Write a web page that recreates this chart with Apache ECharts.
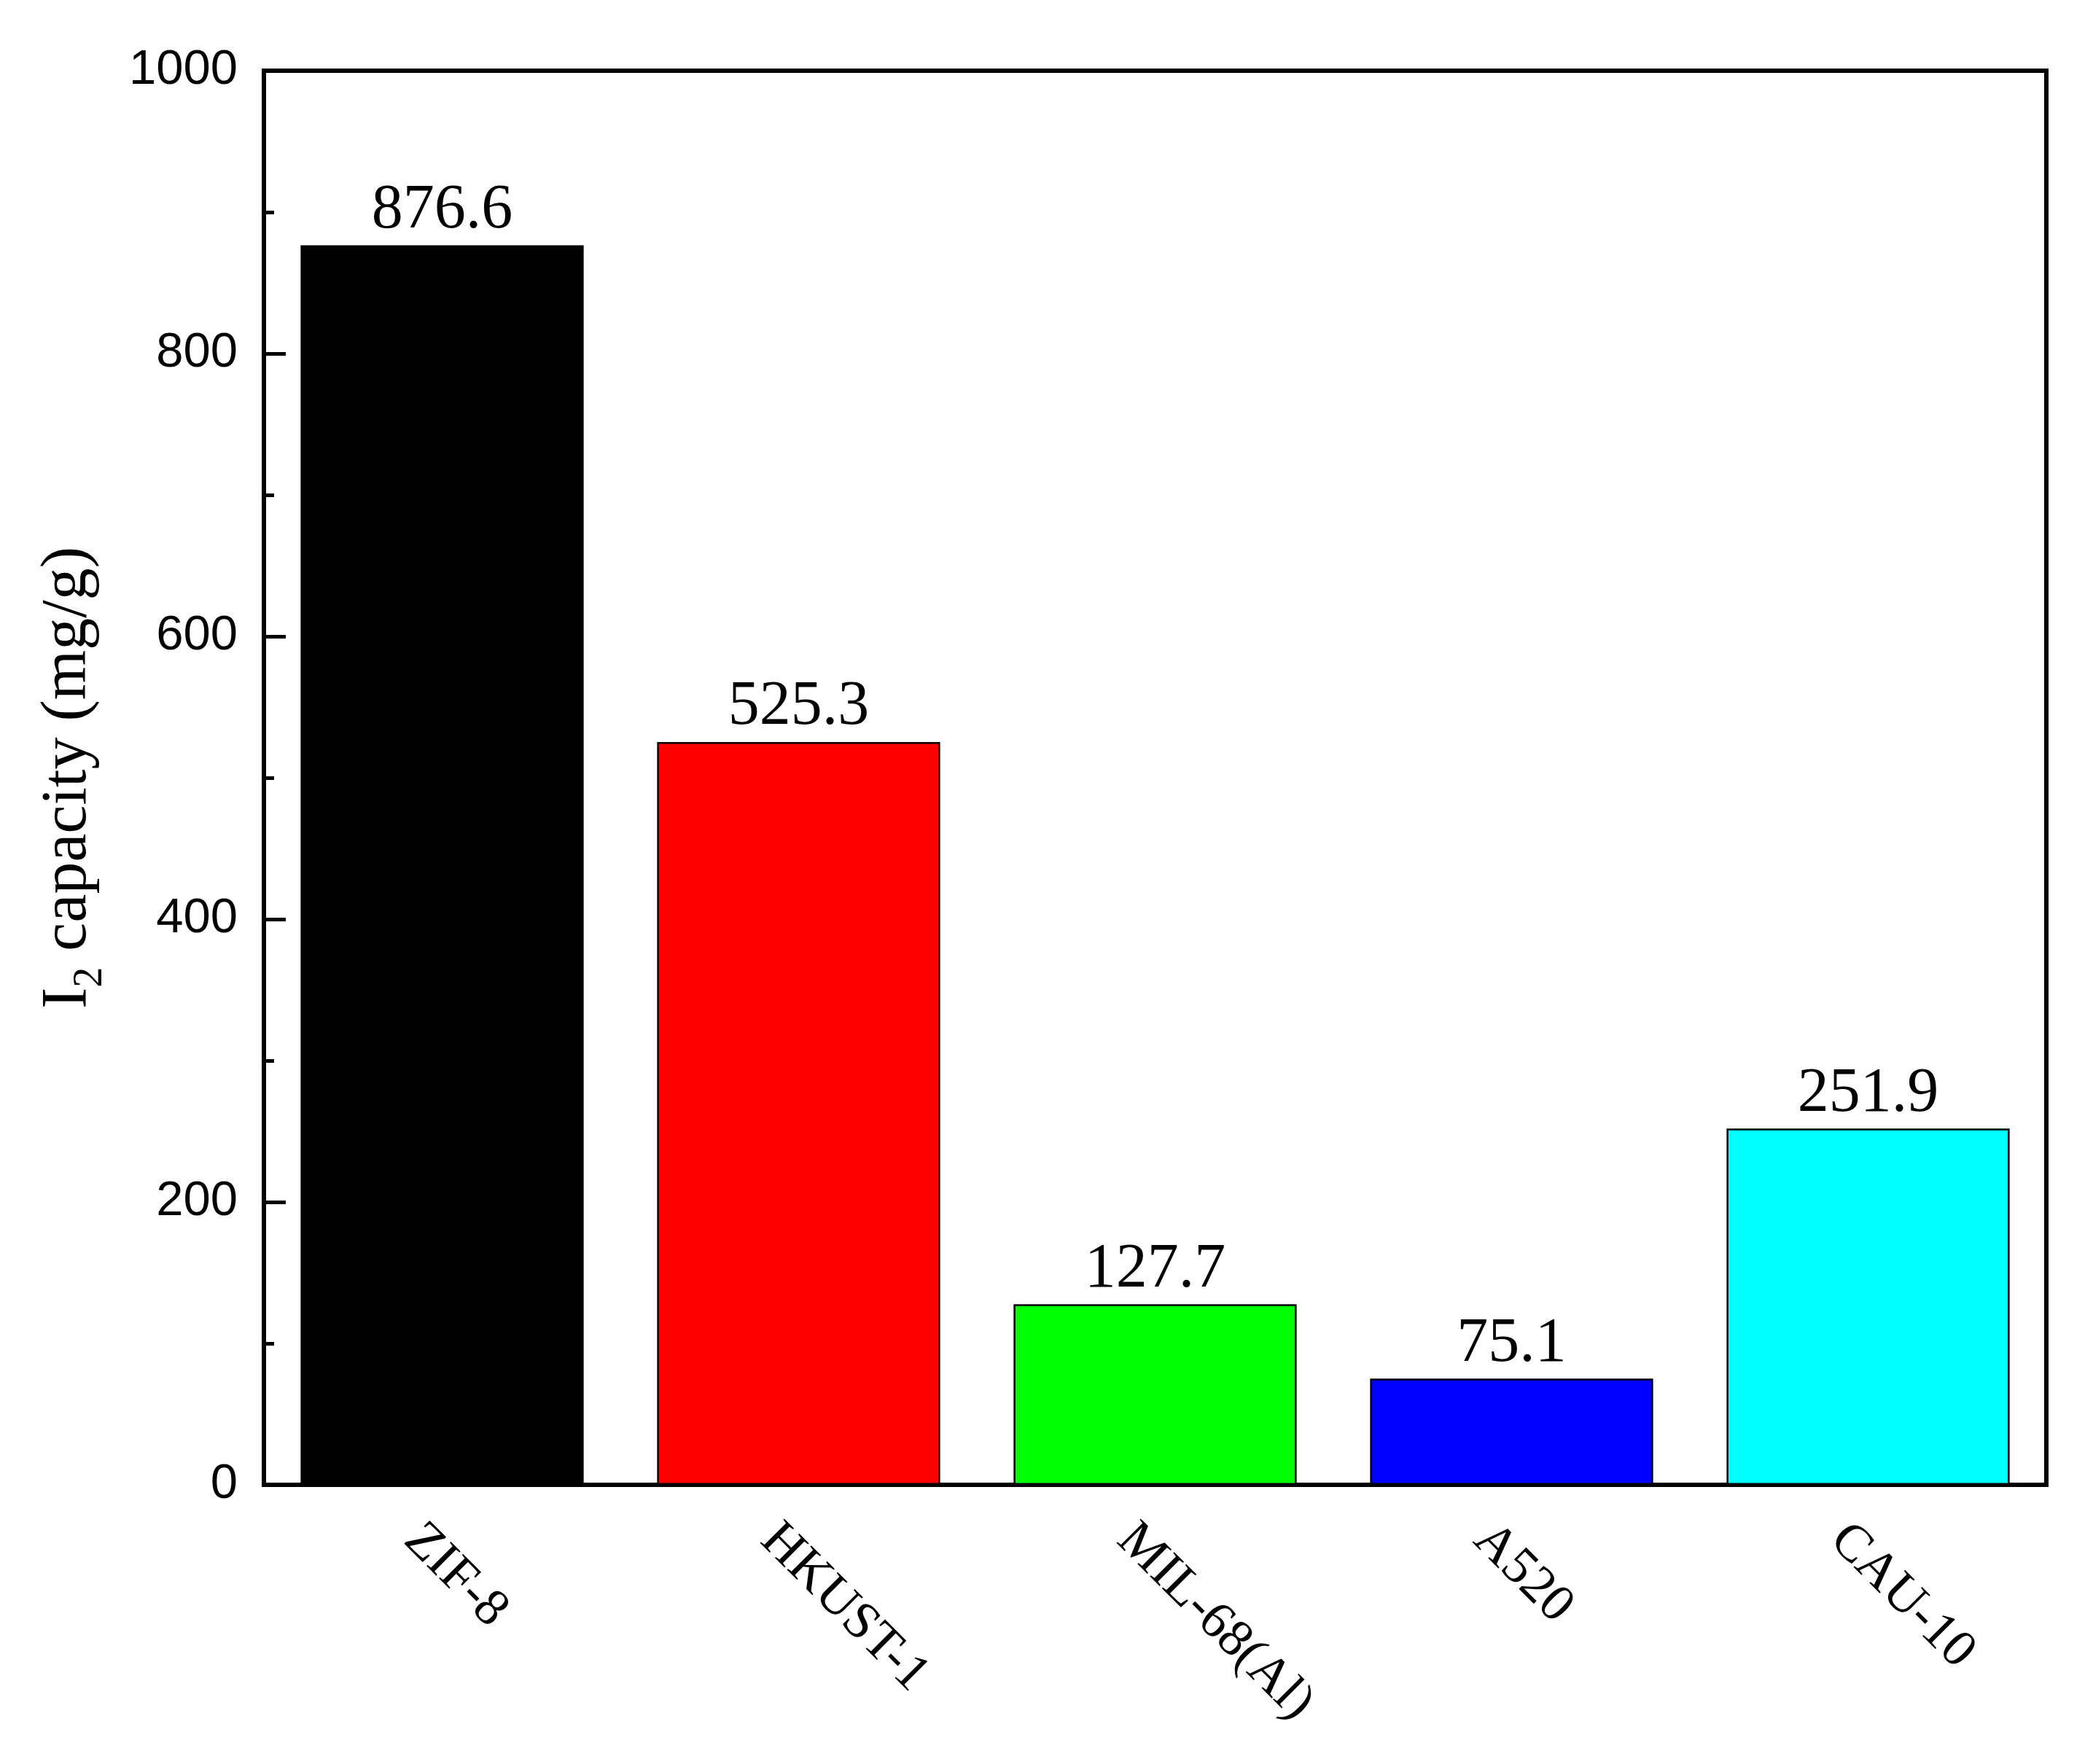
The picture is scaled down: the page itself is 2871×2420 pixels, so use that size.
<!DOCTYPE html>
<html>
<head>
<meta charset="utf-8">
<script src="https://cdn.jsdelivr.net/npm/echarts@6/dist/echarts.min.js"></script>
<style>
html, body { margin: 0; padding: 0; background: #ffffff; }
#chart { width: 2871px; height: 2420px; }
</style>
</head>
<body>
<div id="chart"></div>
<script>
const categories = ['ZIF-8', 'HKUST-1', 'MIL-68(Al)', 'A520', 'CAU-10'];
const capacities = [876.6, 525.3, 127.7, 75.1, 251.9];
const barColors = ['#000000', '#ff0000', '#00ff00', '#0000ff', '#00ffff'];
const yMin = 0, yMax = 1000, yInterval = 200;

const chart = echarts.init(document.getElementById('chart'), null, { renderer: 'canvas' });

const seriesData = capacities.map((v, i) => ({
  value: v,
  itemStyle: { color: barColors[i] }
}));

chart.setOption({
  backgroundColor: '#ffffff',
  animation: false,
  grid: {
    left: 362, right: 64, top: 97, bottom: 383,
    show: true, borderColor: '#000000', borderWidth: 6, backgroundColor: 'transparent'
  },
  xAxis: {
    type: 'category',
    data: categories,
    axisLine: { show: true, lineStyle: { color: '#000', width: 6 } },
    axisTick: { show: false },
    axisLabel: {
      rotate: -45,
      margin: 106,
      padding: [0, 0, 0, -58],
      fontFamily: 'Liberation Serif',
      fontSize: 72,
      color: '#000'
    },
    splitLine: { show: false }
  },
  yAxis: {
    type: 'value',
    min: yMin, max: yMax, interval: yInterval,
    name: '{m|I}{s|2}{m| capacity (mg/g)}',
    nameLocation: 'middle',
    nameGap: 224,
    nameTextStyle: {
      fontFamily: 'Liberation Serif',
      fontSize: 88,
      color: '#000',
      rich: {
        m: { fontFamily: 'Liberation Serif', fontSize: 88, color: '#000' },
        s: { fontFamily: 'Liberation Serif', fontSize: 56, color: '#000', verticalAlign: 'bottom', padding: [0, 0, -14, 0] }
      }
    },
    axisLine: { show: true, lineStyle: { color: '#000', width: 6 } },
    axisTick: { show: true, inside: true, length: 30, lineStyle: { color: '#000', width: 5 } },
    minorTick: { show: true, splitNumber: 2, length: 14, lineStyle: { color: '#000', width: 5 } },
    axisLabel: {
      margin: 36,
      fontFamily: 'Liberation Sans',
      fontSize: 67,
      color: '#000',
      formatter: v => String(v)
    },
    splitLine: { show: false },
    minorSplitLine: { show: false }
  },
  series: [{
    type: 'bar',
    data: seriesData,
    barWidth: '79.4%',
    itemStyle: { borderColor: '#000', borderWidth: 2.5 },
    label: {
      show: true,
      position: 'top',
      distance: 4,
      fontFamily: 'Liberation Serif',
      fontSize: 86,
      color: '#000',
      formatter: p => p.value.toFixed(1)
    }
  }]
});
</script>
</body>
</html>
